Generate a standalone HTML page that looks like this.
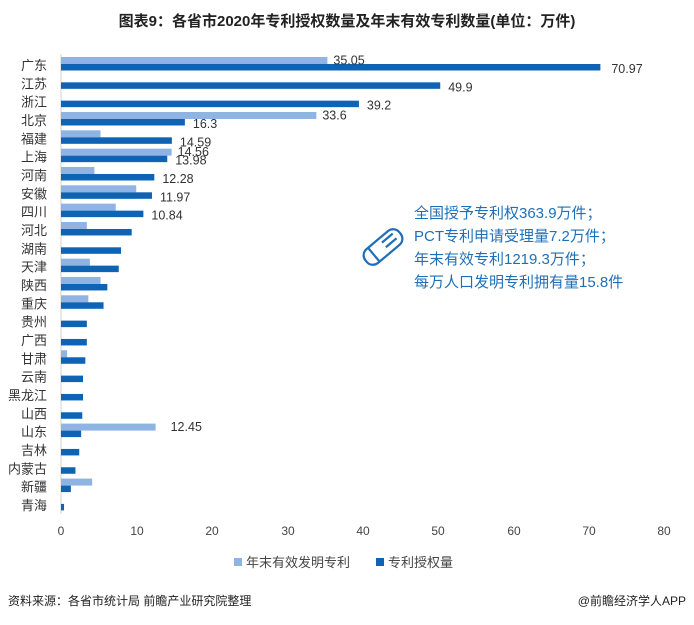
<!DOCTYPE html>
<html><head><meta charset="utf-8"><style>
body{margin:0;background:#fff;}
svg text{font-family:"Liberation Sans","Noto Sans CJK SC",sans-serif;}
</style></head><body>
<svg width="694" height="620" xmlns="http://www.w3.org/2000/svg">
<rect width="694" height="620" fill="#fff"/>
<text x="347" y="26" text-anchor="middle" font-size="15" font-weight="bold" fill="#222">图表9：各省市2020年专利授权数量及年末有效专利数量(单位：万件)</text>
<line x1="61" y1="54" x2="61" y2="514" stroke="#d0d0d0" stroke-width="1"/>
<g id="bars"></g>
<g font-size="12" fill="#444" text-anchor="middle">
<text x="61" y="535">0</text><text x="137" y="535">10</text><text x="212" y="535">20</text><text x="288" y="535">30</text><text x="363" y="535">40</text><text x="438" y="535">50</text><text x="514" y="535">60</text><text x="589" y="535">70</text><text x="664" y="535">80</text>
</g>
<rect x="234" y="558" width="8" height="8" fill="#8fb4e3"/>
<text x="246" y="567" font-size="13" fill="#444">年末有效发明专利</text>
<rect x="376" y="558" width="8" height="8" fill="#0e63b5"/>
<text x="388" y="567" font-size="13" fill="#444">专利授权量</text>
<text x="8" y="605" font-size="12" fill="#222">资料来源：各省市统计局 前瞻产业研究院整理</text>
<text x="686" y="605" font-size="12" fill="#222" text-anchor="end">@前瞻经济学人APP</text>
<g font-size="15" fill="#1f6fb8">
<text x="414" y="218">全国授予专利权363.9万件；</text>
<text x="414" y="241">PCT专利申请受理量7.2万件；</text>
<text x="414" y="264">年末有效专利1219.3万件；</text>
<text x="414" y="287">每万人口发明专利拥有量15.8件</text>
</g>
<g transform="translate(383,247) rotate(-40)" fill="none" stroke="#1f6fb8" stroke-width="2.2">
<rect x="-22" y="-9" width="44" height="18" rx="8"/>
<line x1="-12" y1="-9" x2="-12" y2="9"/>
<line x1="2" y1="-4" x2="16" y2="-4"/>
<line x1="2" y1="2" x2="16" y2="2"/>
</g>
</svg>
<script>
var names=["广东","江苏","浙江","北京","福建","上海","河南","安徽","四川","河北","湖南","天津","陕西","重庆","贵州","广西","甘肃","云南","黑龙江","山西","山东","吉林","内蒙古","新疆","青海"];
var light=[35.05,0,0,33.6,5.2,14.56,4.4,9.9,7.2,3.4,0,3.8,5.2,3.6,0,0,0.8,0,0,0,12.45,0,0,4.1,0];
var dark=[70.97,49.9,39.2,16.3,14.59,13.98,12.28,11.97,10.84,9.3,7.9,7.6,6.1,5.6,3.4,3.4,3.2,2.9,2.9,2.8,2.65,2.4,1.9,1.3,0.4];
var ll={0:"35.05",3:"33.6",5:"14.56",20:"12.45"};
var dl={0:"70.97",1:"49.9",2:"39.2",3:"16.3",4:"14.59",5:"13.98",6:"12.28",7:"11.97",8:"10.84"};
var g=document.getElementById("bars"),s="",k=7.6;
for(var i=0;i<25;i++){var c=65+18.33*i;
s+='<text x="47" y="'+(c+5)+'" font-size="13" fill="#333" text-anchor="end">'+names[i]+'</text>';
if(light[i]>0)s+='<rect x="61" y="'+(c-8)+'" width="'+(light[i]*k)+'" height="7" fill="#8fb4e3"/>';
s+='<rect x="61" y="'+(c-1)+'" width="'+(dark[i]*k)+'" height="6.5" fill="#0e63b5"/>';
if(ll[i])s+='<text x="'+(61+light[i]*k+(i==20?15:6))+'" y="'+(c-0.5)+'" font-size="12.5" fill="#333">'+ll[i]+'</text>';
if(dl[i])s+='<text x="'+(61+dark[i]*k+(i==0?11:8))+'" y="'+(c+8)+'" font-size="12.5" fill="#333">'+dl[i]+'</text>';
}
g.innerHTML=s;
</script>
</body></html>
